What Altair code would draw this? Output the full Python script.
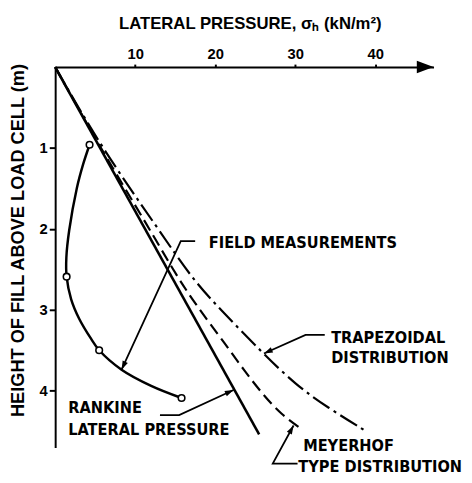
import altair as alt
import pandas as pd
import numpy as np

# ---------------- data ----------------
X_MAX = 47.3          # lateral pressure axis end (kN/m2)
Z_MAX = 4.7           # height axis end (m)
x_ticks = [10, 20, 30, 40]
z_ticks = [1, 2, 3, 4]

rankine_z = [0.0, 4.54]
rankine_s = [0.0, 25.5]

meyerhof_z = [0.0, 1.0, 2.0, 2.5, 2.9, 3.44, 3.76, 4.05, 4.29, 4.48]
meyerhof_s = [0.0, 5.65, 11.8, 14.7, 17.3, 21.4, 23.7, 26.0, 28.2, 30.9]

trap_z = [0.0, 1.0, 2.0, 2.63, 3.03, 3.54, 3.93, 4.21, 4.49]
trap_s = [0.0, 5.8, 12.9, 17.2, 21.0, 26.0, 30.1, 34.1, 38.7]

# field measurements (circles)
field_z = [0.96, 2.59, 3.50, 4.09]
field_s = [4.3, 1.43, 5.5, 15.8]
curve_z = [0.96, 1.2, 1.5, 2.02, 2.35, 2.59, 2.87, 3.11, 3.36, 3.50, 3.74, 3.94, 4.09]
curve_s = [4.3, 3.5, 2.7, 1.75, 1.4, 1.43, 2.0, 3.0, 4.5, 5.5, 8.3, 12.0, 15.8]

# annotation leaders (label end -> elbow -> arrow tip)
leaders = {
    "field":    ([17.5, 15.7, 8.3], [2.15, 2.15, 3.74]),
    "rankine":  ([13.1, 15.5, 22.3], [4.30, 4.30, 3.99]),
    "trap":     ([33.7, 31.3, 26.1], [3.31, 3.31, 3.54]),
    "meyerhof": ([30.3, 27.2, 29.8], [4.90, 4.90, 4.43]),
}

label_text = ["FIELD MEASUREMENTS", "TRAPEZOIDAL", "DISTRIBUTION", "MEYERHOF",
              "TYPE DISTRIBUTION", "RANKINE", "LATERAL PRESSURE"]
label_s = [19.2, 34.5, 34.5, 31.0, 30.4, 1.64, 1.64]
label_z = [2.24, 3.41, 3.66, 4.75, 5.01, 4.28, 4.55]

# ---------------- layout ----------------
W, H = 385, 387
PX_X = W / X_MAX
PX_Z = H / Z_MAX

ANN_FONT = "Liberation Sans Narrow, DejaVu Sans Condensed, Liberation Sans, sans-serif"
AX_FONT = "Liberation Sans, Arial, sans-serif"

x_scale = alt.Scale(domain=[0, X_MAX], nice=False, zero=False)
y_scale = alt.Scale(domain=[0, Z_MAX], nice=False, zero=False, reverse=True)

x_axis = alt.Axis(orient="top", values=x_ticks, format="d", tickSize=3, tickWidth=2,
                  labelPadding=3, labelFontSize=15, labelFontWeight="bold", labelFont=AX_FONT,
                  title="LATERAL PRESSURE, σₕ (kN/m²)", titleFontSize=17,
                  titleFontWeight="bold", titleFont=AX_FONT, titleX=198, titleY=-39,
                  titleAlign="center", titleBaseline="alphabetic", titleAngle=0,
                  grid=False, domainWidth=2)
y_axis = alt.Axis(orient="left", values=z_ticks, format="d", tickSize=6, tickWidth=2,
                  labelPadding=2, labelFontSize=15, labelFontWeight="bold", labelFont=AX_FONT,
                  title="HEIGHT OF FILL ABOVE LOAD CELL (m)", titleFontSize=18.5,
                  titleFontWeight="bold", titleFont=AX_FONT, titleX=-32, titleY=176,
                  titleAlign="center", titleBaseline="alphabetic", titleAngle=270,
                  grid=False, domainWidth=2)


def X():
    return alt.X("s:Q", scale=x_scale, axis=x_axis)


def Y():
    return alt.Y("z:Q", scale=y_scale, axis=y_axis)


def frame(s, z, name=None):
    d = pd.DataFrame({"s": s, "z": z})
    d["i"] = np.arange(len(d))
    if name is not None:
        d["name"] = name
    return d


rankine = alt.Chart(frame(rankine_s, rankine_z)).mark_line(
    color="black", strokeWidth=2.6).encode(x=X(), y=Y(), order="i:Q")

meyerhof = alt.Chart(frame(meyerhof_s, meyerhof_z)).mark_line(
    color="black", strokeWidth=2.2, strokeDash=[12, 6], interpolate="basis"
).encode(x=X(), y=Y(), order="i:Q")

trap = alt.Chart(frame(trap_s, trap_z)).mark_line(
    color="black", strokeWidth=2.2, strokeDash=[20, 5, 3, 5], interpolate="basis"
).encode(x=X(), y=Y(), order="i:Q")

field_curve = alt.Chart(frame(curve_s, curve_z)).mark_line(
    color="black", strokeWidth=2.5, interpolate="catmull-rom"
).encode(x=X(), y=Y(), order="i:Q")

field_pts = alt.Chart(frame(field_s, field_z)).mark_point(
    shape="circle", filled=True, fill="white", stroke="black", strokeWidth=1.6,
    size=45, opacity=1).encode(x=X(), y=Y())

lead_df = pd.concat([frame(s, z, n) for n, (s, z) in leaders.items()], ignore_index=True)
lead_lines = alt.Chart(lead_df).mark_line(color="black", strokeWidth=1.8).encode(
    x=X(), y=Y(), order="i:Q", detail="name:N")

tips = []
for n, (s, z) in leaders.items():
    dx = (s[-1] - s[-2]) * PX_X
    dy = (z[-1] - z[-2]) * PX_Z
    ang = (np.degrees(np.arctan2(dx, -dy)) + 360) % 360
    tips.append({"s": s[-1], "z": z[-1], "ang": float(ang)})
tip_df = pd.DataFrame(tips)
ARROW_TIP = "M0,0 L-0.55,1.7 L0.55,1.7 Z"
arrow_tips = alt.Chart(tip_df).mark_point(
    shape=ARROW_TIP, filled=True, color="black", size=110, opacity=1
).encode(x=X(), y=Y(), angle=alt.Angle("ang:Q", scale=None))

axis_arrow = alt.Chart(pd.DataFrame({"s": [X_MAX], "z": [0.0]})).mark_point(
    shape="M0,0 L-2,-0.75 L-2,0.75 Z", filled=True, color="black", size=289, opacity=1
).encode(x=X(), y=Y())

labels = alt.Chart(pd.DataFrame({"s": label_s, "z": label_z, "t": label_text})).mark_text(
    align="left", baseline="alphabetic", font=ANN_FONT, fontSize=16.5, fontWeight="bold",
    color="black").encode(x=X(), y=Y(), text="t:N")

chart = alt.layer(
    rankine, meyerhof, trap, field_curve, field_pts, lead_lines, arrow_tips,
    axis_arrow, labels
).properties(
    width=W, height=H,
    padding={"left": 48, "top": 56, "right": 31, "bottom": 24},
    autosize=alt.AutoSizeParams(type="none"),
    background="white",
).configure_view(stroke=None).configure_axis(
    domainColor="black", tickColor="black", labelColor="black", titleColor="black"
)

chart.save("out.html", embed_options={"renderer": "svg", "actions": False})
